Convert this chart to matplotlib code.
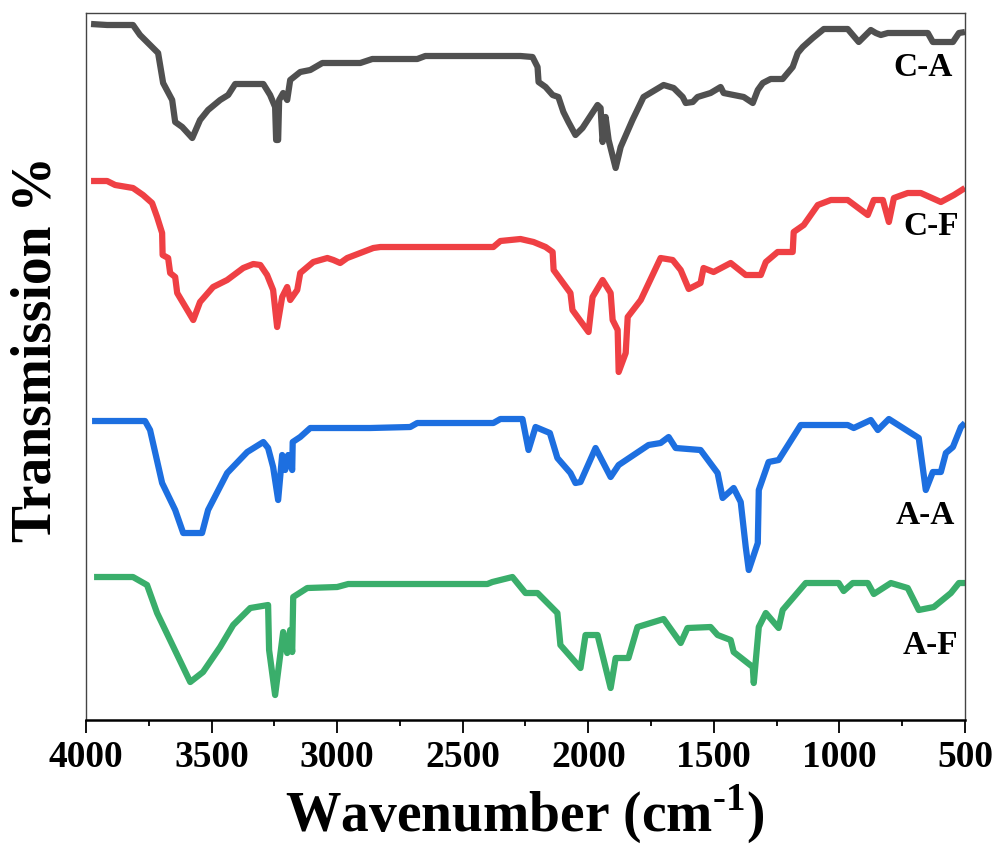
import matplotlib
matplotlib.use("Agg")
import matplotlib.pyplot as plt
from matplotlib.ticker import MultipleLocator

plt.rcParams['font.family'] = ['Liberation Serif', 'DejaVu Serif']
plt.rcParams['font.weight'] = 'bold'
plt.rcParams['mathtext.fontset'] = 'custom'
plt.rcParams['mathtext.rm'] = 'Liberation Serif:bold'
plt.rcParams['mathtext.bf'] = 'Liberation Serif:bold'

# spectra (wavenumber in cm-1, transmission in arbitrary offset units)
ca_wn = [3980, 3916, 3813, 3785, 3733, 3713, 3693, 3657, 3645, 3617, 3577, 3546, 3514, 3466, 3434,
         3406, 3294, 3267, 3247, 3243, 3235, 3231, 3215, 3199, 3187, 3147, 3107, 3059, 2908, 2860,
         2681, 2649, 2270, 2222, 2202, 2198, 2170, 2142, 2119, 2099, 2079, 2051, 2023, 1963, 1951,
         1943, 1931, 1919, 1891, 1871, 1824, 1780, 1700, 1660, 1624, 1612, 1584, 1565, 1513, 1473,
         1461, 1421, 1381, 1345, 1325, 1305, 1274, 1226, 1186, 1166, 1146, 1106, 1062, 967, 923,
         875, 855, 835, 807, 648, 628, 548, 524, 500]
ca_t = [696, 695, 695, 685, 672, 667, 637, 620, 598, 593, 582, 600, 610, 620, 625,
        636, 636, 625, 613, 580, 580, 620, 627, 620, 640, 648, 650, 657, 657, 661,
        661, 664, 664, 663, 653, 638, 633, 625, 623, 608, 598, 585, 592, 615, 612,
        578, 603, 580, 552, 573, 600, 623, 635, 632, 623, 617, 618, 623, 627, 633,
        627, 625, 623, 617, 630, 637, 641, 641, 653, 667, 673, 682, 691, 691, 678,
        690, 687, 685, 687, 687, 678, 678, 687, 688]

cf_wn = [3980, 3916, 3884, 3813, 3773, 3737, 3717, 3697, 3695, 3673, 3665, 3645, 3637, 3573, 3546,
         3494, 3438, 3374, 3334, 3306, 3279, 3255, 3239, 3219, 3199, 3187, 3159, 3147, 3095, 3039,
         3015, 2988, 2960, 2856, 2828, 2378, 2350, 2270, 2218, 2170, 2142, 2138, 2071, 2063, 1999,
         1983, 1943, 1911, 1903, 1883, 1879, 1851, 1843, 1791, 1712, 1664, 1632, 1600, 1553, 1541,
         1501, 1433, 1373, 1313, 1293, 1246, 1186, 1182, 1142, 1086, 1034, 967, 887, 863, 827,
         803, 783, 728, 676, 596, 544, 500]
cf_t = [539, 539, 535, 532, 525, 517, 503, 487, 465, 462, 447, 443, 427, 400, 418,
        433, 440, 452, 456, 455, 445, 430, 393, 423, 433, 420, 430, 447, 458, 462,
        460, 457, 462, 472, 473, 473, 479, 481, 478, 473, 468, 450, 427, 410, 388,
        423, 440, 427, 400, 390, 348, 367, 403, 420, 462, 460, 450, 431, 437, 452,
        448, 457, 445, 445, 458, 468, 468, 488, 495, 515, 520, 520, 505, 520, 520,
        498, 522, 527, 527, 518, 525, 532]

aa_wn = [3976, 3765, 3745, 3697, 3645, 3613, 3538, 3514, 3438, 3358, 3294, 3275, 3255, 3235, 3219,
         3207, 3195, 3179, 3177, 3147, 3107, 2868, 2709, 2681, 2378, 2350, 2262, 2238, 2210, 2153,
         2123, 2071, 2051, 2031, 1971, 1911, 1879, 1760, 1712, 1680, 1652, 1553, 1485, 1465, 1421,
         1393, 1373, 1361, 1325, 1321, 1282, 1242, 1154, 967, 943, 875, 847, 803, 684, 656,
         628, 596, 576, 548, 516, 500]
aa_t = [299, 299, 290, 237, 210, 187, 187, 210, 247, 268, 278, 272, 253, 220, 265,
        250, 265, 250, 278, 283, 292, 292, 293, 297, 297, 301, 301, 270, 293, 287,
        262, 247, 237, 238, 272, 243, 255, 275, 277, 283, 272, 270, 247, 222, 232,
        218, 173, 150, 177, 230, 258, 260, 295, 295, 292, 300, 290, 301, 282, 230,
        248, 248, 267, 273, 293, 297]

af_wn = [3968, 3813, 3757, 3717, 3585, 3534, 3466, 3414, 3346, 3275, 3271, 3247, 3215, 3199, 3187,
         3179, 3175, 3119, 3000, 2956, 2402, 2382, 2302, 2250, 2202, 2123, 2111, 2031, 2011, 1963,
         1911, 1891, 1840, 1804, 1700, 1632, 1605, 1513, 1485, 1433, 1421, 1345, 1341, 1321, 1293,
         1242, 1226, 1134, 1003, 983, 947, 887, 863, 795, 728, 684, 624, 556, 524, 500]
af_t = [143, 143, 135, 107, 38, 48, 73, 95, 112, 115, 70, 25, 88, 67, 90,
        68, 123, 132, 133, 136, 136, 138, 143, 127, 127, 107, 75, 52, 85, 85,
        32, 62, 62, 93, 101, 77, 92, 93, 85, 80, 68, 53, 37, 93, 107,
        92, 110, 137, 137, 129, 137, 137, 126, 137, 132, 110, 113, 127, 137, 137]

names = ['C-A', 'C-F', 'A-A', 'A-F']
colors = ['#505050', '#ef4044', '#1d6fe0', '#3aae6b']
label_pos = [(668, 652), (636, 494), (656, 205), (636, 75)]

fig = plt.figure(figsize=(9.98, 8.44), dpi=100)
ax = fig.add_axes([0.0862, 0.1469, 0.8807, 0.8377])

for wn, t, c in zip([ca_wn, cf_wn, aa_wn, af_wn], [ca_t, cf_t, aa_t, af_t], colors):
    ax.plot(wn, t, color=c, lw=4.5, solid_joinstyle='round', solid_capstyle='butt')

for name, (px, py) in zip(names, label_pos):
    ax.text(px, py, name, fontsize=24, fontweight='bold', ha='center', va='center')

ax.set_xlim(4000, 500)
ax.set_ylim(0, 707)
ax.xaxis.set_major_locator(MultipleLocator(500))
ax.xaxis.set_minor_locator(MultipleLocator(250))
ax.set_yticks([])
ax.tick_params(axis='x', which='major', length=9.5, width=1.3, labelsize=27, pad=5)
ax.tick_params(axis='x', which='minor', length=4.5, width=1.3)
for lbl in ax.get_xticklabels():
    lbl.set_fontweight('bold')

for s in ['top', 'left', 'right']:
    ax.spines[s].set_color('#444444')
    ax.spines[s].set_linewidth(1.0)
ax.spines['bottom'].set_linewidth(1.8)

ax.set_xlabel(r'Wavenumber (cm$^{\text{-1}}$)', fontsize=40, fontweight='bold')
ax.set_ylabel('Transmission %', fontsize=40, fontweight='bold')
ax.xaxis.set_label_coords(0.4995, -0.089)
ax.yaxis.set_label_coords(-0.027, 0.525)

fig.savefig('out.png', dpi=100)
